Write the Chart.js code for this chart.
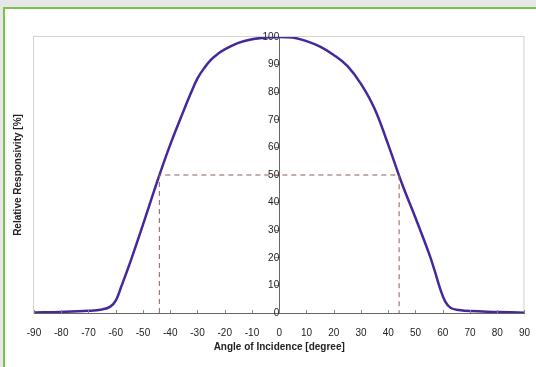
<!DOCTYPE html>
<html>
<head>
<meta charset="utf-8">
<script src="https://cdn.jsdelivr.net/npm/chart.js@4.4.1/dist/chart.umd.min.js"></script>
<style>
  html, body { margin: 0; padding: 0; background: #e6e7e9; }
  #frame {
    position: absolute; left: 3px; top: 7px; width: 540px; height: 370px;
    background: #fff; border-left: 2px solid #7ac14e; border-top: 2px solid #7ac14e;
  }
  #wrap { position: absolute; left: 0; top: 0; width: 536px; height: 367px; }
</style>
</head>
<body>
<div id="frame"></div>
<div id="wrap"><canvas id="chartResp"></canvas></div>
<script>
// angle of incidence [degree]
const angles = [-90, -80, -70, -65, -62, -60, -58, -55, -50, -45, -40, -35, -32.5, -30, -27.5, -25, -22.5, -20, -15, -10, -5, 0,
  5, 10, 15, 20, 25, 30, 35, 40, 45, 50, 55, 57, 59, 61, 63, 66, 70, 80, 90];
// relative responsivity [%]
const responsivity = [0.2, 0.4, 0.8, 1.3, 2.3, 4.5, 9.5, 17.5, 32, 47, 61, 73.5, 79.5, 85, 88.8, 91.8, 93.9, 95.5, 97.9, 99.2, 99.8, 100,
  99.8, 98.5, 96.5, 93.5, 89.5, 83, 74, 61, 47, 34.5, 21.5, 15.5, 9, 4, 1.8, 1.1, 0.7, 0.4, 0.1];
// half-max guide lines
const guideX = [-44, -44, 44, 44];
const guideY = [0, 50, 50, 0];

const xTicks = [-90, -80, -70, -60, -50, -40, -30, -20, -10, 0, 10, 20, 30, 40, 50, 60, 70, 80, 90];

const font = { family: "'Liberation Sans', Arial, sans-serif", size: 10 };
const boldFont = { family: "'Liberation Sans', Arial, sans-serif", size: 10, weight: "bold" };

const extras = {
  id: "extras",
  beforeDraw(chart) {
    const { ctx, chartArea: a } = chart;
    ctx.save();
    ctx.strokeStyle = "#d6d2ce";
    ctx.lineWidth = 1;
    ctx.strokeRect(a.left - 0.5, a.top - 0.5, a.right - a.left + 0, a.bottom - a.top + 1);
    ctx.restore();
  },
  afterDraw(chart) {
    const { ctx, chartArea: a, scales } = chart;
    ctx.save();
    // small x ticks above the axis
    ctx.strokeStyle = "#888";
    ctx.lineWidth = 1;
    xTicks.forEach((v) => {
      const px = Math.round(scales.x.getPixelForValue(v)) + 0.5;
      ctx.beginPath();
      ctx.moveTo(px, a.bottom - 3);
      ctx.lineTo(px, a.bottom);
      ctx.stroke();
    });
    // y axis title on the left
    ctx.fillStyle = "#222";
    ctx.font = "bold 10px 'Liberation Sans', Arial, sans-serif";
    ctx.textAlign = "center";
    ctx.textBaseline = "middle";
    ctx.translate(18, (a.top + a.bottom) / 2);
    ctx.rotate(-Math.PI / 2);
    ctx.fillText("Relative Responsivity [%]", 0, 0);
    ctx.restore();
  },
};

const data = {
  datasets: [
    {
      label: "guide",
      data: guideX.map((x, i) => ({ x, y: guideY[i] })),
      showLine: true,
      borderColor: "#8c5f55",
      borderWidth: 1,
      borderDash: [5, 4],
      pointRadius: 0,
      tension: 0,
    },
    {
      label: "Relative Responsivity",
      data: angles.map((x, i) => ({ x, y: responsivity[i] })),
      showLine: true,
      borderColor: "#45289b",
      borderWidth: 2.5,
      pointRadius: 0,
      tension: 0.4,
    },
  ],
};

const config = {
  type: "scatter",
  data,
  options: {
    responsive: true,
    maintainAspectRatio: false,
    animation: false,
    layout: { padding: { left: 34, top: 37, right: 10, bottom: 12 } },
    plugins: { legend: { display: false }, tooltip: { enabled: false } },
    scales: {
      x: {
        type: "linear",
        min: -90,
        max: 90,
        afterBuildTicks: (s) => { s.ticks = xTicks.map((v) => ({ value: v })); },
        afterFit: (s) => { s.height = 42; },
        grid: { display: false },
        border: { display: true, color: "#666", width: 1 },
        ticks: { font, color: "#222", padding: 6, maxRotation: 0, autoSkip: false },
        title: {
          display: true,
          text: "Angle of Incidence [degree]",
          font: boldFont,
          color: "#222",
          padding: { top: 2, bottom: 2 },
        },
      },
      y: {
        type: "linear",
        position: { x: 0 },
        min: 0,
        max: 100,
        ticks: { stepSize: 10, font, color: "#222", padding: 3 },
        grid: { display: true, drawOnChartArea: false, drawTicks: true, tickLength: 4, color: "#888" },
        border: { display: true, color: "#666", width: 1 },
      },
    },
  },
  plugins: [extras],
};

const chartResp = new Chart(document.getElementById("chartResp"), config);
</script>
</body>
</html>
